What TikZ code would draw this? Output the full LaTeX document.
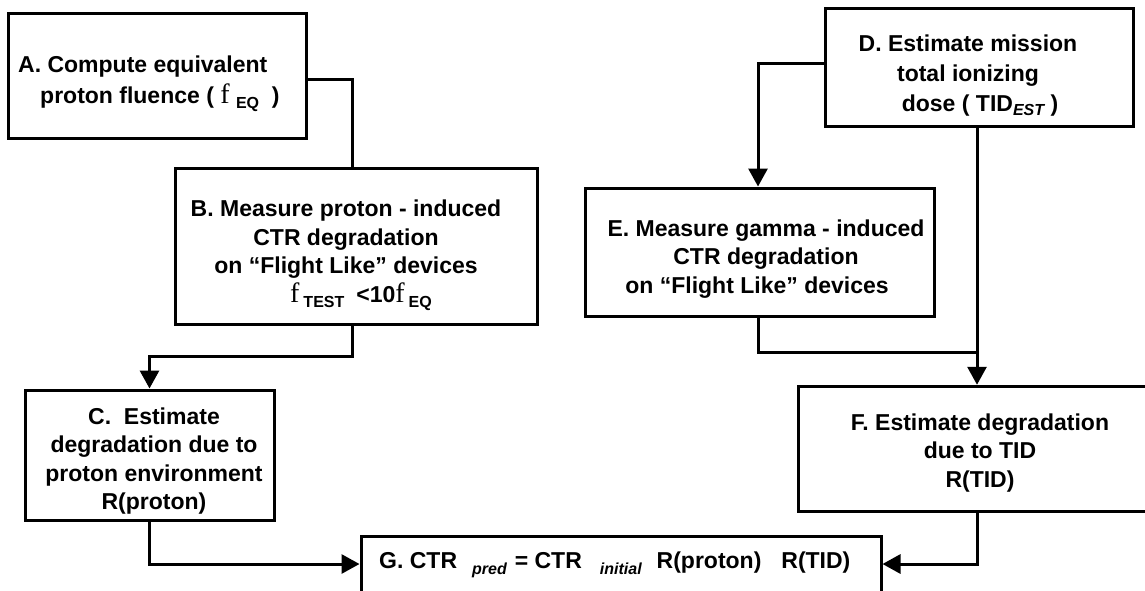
\documentclass[tikz,border=0pt]{standalone}
\usepackage{fontspec}
\setmainfont{Liberation Sans}
\newfontfamily\serf{Liberation Serif}
\usetikzlibrary{arrows.meta}
% serif fluence symbol and lowered small subscripts
\newcommand\flu{{\fontsize{28}{28}\serf\mdseries f}}
\newcommand\lowsub[2][5pt]{\raisebox{-#1}{\fontsize{16}{16}\selectfont #2}}

\begin{document}
\begin{tikzpicture}[x=1pt,y=-1pt,
  box/.style={draw, line width=3pt, rectangle, inner sep=0pt},
  txt/.style={font=\fontsize{23}{28.5}\selectfont\bfseries, inner sep=0pt, align=center},
  wire/.style={line width=3pt},
  arr/.style={wire, -{Triangle[width=19pt,length=18pt]}}]
\clip (0,0) rectangle (1145,590);
\fill[white] (0,0) rectangle (1145,590);

% boxes
\node[box, minimum width=298pt, minimum height=125pt] (A) at (157,76) {};
\node[box, minimum width=362pt, minimum height=156pt] (B) at (356,246) {};
\node[box, minimum width=249pt, minimum height=130pt] (C) at (149.5,455) {};
\node[box, minimum width=308pt, minimum height=118pt] (D) at (979,67) {};
\node[box, minimum width=349pt, minimum height=128pt] (E) at (760.4,252) {};
\node[box, minimum width=357pt, minimum height=125.5pt] (F) at (976.5,449) {};
\node[box, minimum width=520pt, minimum height=56pt] (G) at (621,564) {};

% box texts
\node[txt, align=left, anchor=west] (tA) at (18,84)
  {A. Compute equivalent\\[2.5pt]\hspace*{22pt}proton fluence ( \flu\ \lowsub{EQ}\ \ )};
\node[txt] (tB) at (346,255)
  {B. Measure proton - induced\\ CTR degradation\\ on “Flight Like” devices\\
   \hspace*{30pt}\flu\hspace{4pt}\lowsub{TEST}\hspace{12pt}<10\flu\hspace{4pt}\lowsub{EQ}};
\node[txt] (tC) at (154,461)
  {C.\ \ Estimate\\ degradation due to\\ proton environment\\ R(proton)};
\node[txt] (tD) at (968,76)
  {D. Estimate mission\\[1.5pt] total ionizing\\[1.5pt]
   \hspace*{24pt}dose ( TID\lowsub[4pt]{\itshape EST} )};
\node[txt] (tE) at (766,259)
  {E. Measure gamma - induced\\ CTR degradation\hspace*{26pt}\\
   on “Flight Like” devices\hspace*{18pt}};
\node[txt] (tF) at (980,453)
  {F. Estimate degradation\\ due to TID\\ R(TID)};
\node[txt, anchor=west] (tG) at (379,565)
  {G.\ CTR\hspace{15pt}\lowsub[6pt]{\itshape pred}\hspace{8pt}=\ CTR\hspace{18pt}\lowsub[6pt]{\itshape initial}\hspace{15pt}R(proton)\hspace{20pt}R(TID)};

% bend points of the connectors
\coordinate (ab) at (352,79);
\coordinate (bc) at (352,356);
\coordinate (de) at (758,63);
\coordinate (vx) at (977,352);

% connectors
\draw[wire] (A.east |- ab) -| (B.north -| ab);
\draw[arr] (B.south -| bc) -- (bc) -| (C.north);
\draw[arr] (C.south) |- (G.west);
\draw[arr] (D.west |- de) -| (E.north -| de);
\draw[arr] (D.south -| vx) -- (F.north -| vx);
\draw[wire] (E.south -| de) |- (vx);
\draw[arr] (F.south -| vx) |- (G.east);
\end{tikzpicture}
\end{document}
